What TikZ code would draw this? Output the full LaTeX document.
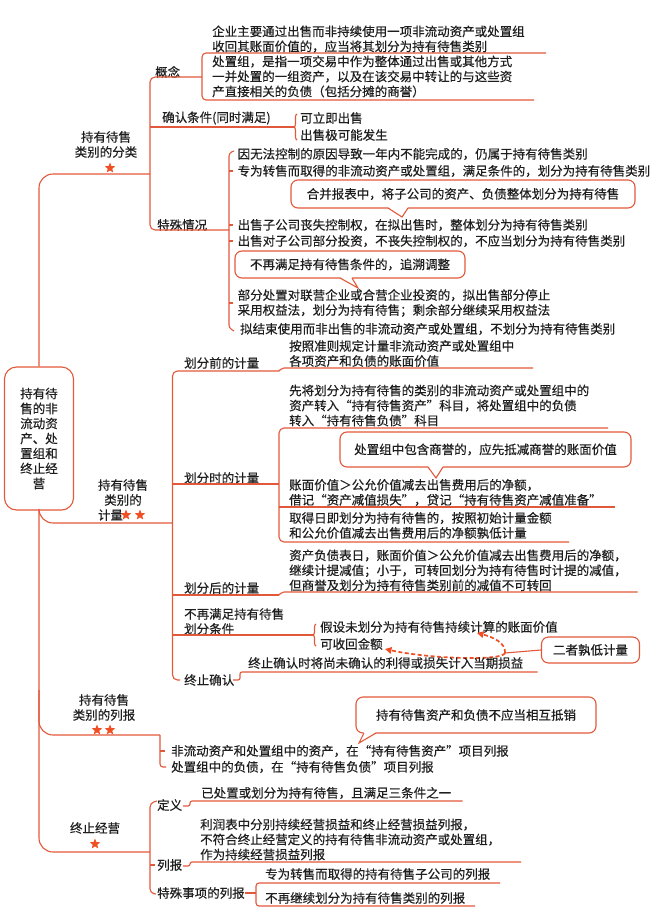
\documentclass[tikz,border=0pt]{standalone}
\usepackage{fontspec}
\setmainfont{Noto Sans CJK SC}[FakeBold=0.35]
\usetikzlibrary{shapes.geometric,arrows.meta,decorations.pathreplacing}
\definecolor{lc}{HTML}{E2583A}
\definecolor{sc}{HTML}{F04E23}
\definecolor{tc}{HTML}{1E1E1E}
\newcommand{\calltail}[5]{%
  \fill[white] (#1,#4-0.9) -- (#3,#5) -- (#2,#4-0.9) -- cycle;
  \draw[ln] (#1,#4) -- (#3,#5) -- (#2,#4);}
\begin{document}
\begin{tikzpicture}[x=1pt,y=-1pt,
  every node/.style={text=tc, font=\fontsize{12.5}{15}\selectfont, inner sep=0pt},
  txt/.style={anchor=west, align=left},
  lab/.style={align=center},
  ln/.style={draw=lc, line width=1.1pt},
  box/.style={draw=lc, line width=1.1pt, rounded corners=7pt, fill=white},
  starn/.style={star, star points=5, star point ratio=2.3, fill=sc, draw=none, minimum size=11pt, inner sep=0pt},
  dasharrow/.style={draw=sc, line width=1.7pt, dash pattern=on 4pt off 2.5pt, -{Triangle[length=6.5pt,width=6.5pt]}}
]
\fill[white] (0,0) rectangle (650,921);
\useasboundingbox (0,0) rectangle (650,921);

% ---------- root and trunk ----------
\node[box, minimum width=69pt, minimum height=143pt, align=center, rounded corners=12pt] (root) at (39,438.5)
  {持有待\\售的非\\流动资\\产、处\\置组和\\终止经\\营};
\coordinate (j1) at (150,174);
\coordinate (j2) at (172.5,523);
\coordinate (j3) at (160,735);
\coordinate (j4) at (150,852);
\coordinate (t3) at (39,690);
\draw[ln, rounded corners=14pt] (root.north) |- (j1);
\draw[ln, rounded corners=14pt] (root.south) |- (j2);
\draw[ln, rounded corners=14pt] (root.south) |- (j4);
\draw[ln, rounded corners=14pt] (t3) |- (j3);

% ---------- category labels ----------
\node[lab] (c1) at (106,144.5) {持有待售\\类别的分类};
\node[starn] (c1s) at (110,168) {};
\node[lab] (c2) at (123,500) {持有待售\\类别的\\计量\rule{25pt}{0pt}};
\node[starn] (c2s1) at (126,515) {};
\node[starn] (c2s2) at (140,515) {};
\node[lab] (c3) at (104,707.5) {持有待售\\类别的列报};
\node[starn] (c3s1) at (97,730) {};
\node[starn] (c3s2) at (110,730) {};
\node[lab] (c4) at (95,828) {终止经营};
\node[starn] (c4s) at (95,844) {};

% ---------- category 1 ----------
\node[txt] (gn) at (155,72) {概念};
\node[txt] (qr) at (162,118) {确认条件(同时满足)};
\node[txt] (ts) at (157,225) {特殊情况};
\coordinate (gnj) at (202,77);
\coordinate (tsj) at (229,230);
\draw[ln, rounded corners=5pt] (gnj) -| (150,150) |- (tsj);
\draw[ln] (150,127) -- (294,127);
\draw[ln, rounded corners=4pt] (546,53) -- (202,53) -- (202,100) -- (534,100);
\node[txt] (g1) at (212,39) {企业主要通过出售而非持续使用一项非流动资产或处置组\\收回其账面价值的，应当将其划分为持有待售类别};
\node[txt] (g2) at (212,76.5) {处置组，是指一项交易中作为整体通过出售或其他方式\\一并处置的一组资产，以及在该交易中转让的与这些资\\产直接相关的负债（包括分摊的商誉）};
\draw[ln, decorate, decoration={brace, amplitude=3pt}] (297,140) -- (297,114);
\node[txt] (q1) at (300,118) {可立即出售};
\node[txt] (q2) at (300,135) {出售极可能发生};

\draw[ln, rounded corners=3pt] (234,151) -- (229,153) -- (229,328) -- (234,331);
\foreach \yy in {171,225,241,303} {\draw[ln] (229,\yy) -- (233,\yy);}
\node[txt] (s1) at (237.5,154) {因无法控制的原因导致一年内不能完成的，仍属于持有待售类别};
\node[txt] (s2) at (237.5,171) {专为转售而取得的非流动资产或处置组，满足条件的，划分为持有待售类别};
\node[box, minimum width=344pt, minimum height=28pt] (k1) at (463,194) {合并报表中，将子公司的资产、负债整体划分为持有待售};
\calltail{388}{408}{402}{208}{217}
\node[txt] (s3) at (237.5,225) {出售子公司丧失控制权，在拟出售时，整体划分为持有待售类别};
\node[txt] (s4) at (237.5,241) {出售对子公司部分投资，不丧失控制权的，不应当划分为持有待售类别};
\node[box, minimum width=230pt, minimum height=27pt] (k2) at (350,264.5) {不再满足持有待售条件的，追溯调整};
\calltail{340}{352}{358}{278}{288}
\node[txt] (s5) at (237.5,303) {部分处置对联营企业或合营企业投资的，拟出售部分停止\\采用权益法，划分为持有待售；剩余部分继续采用权益法};
\node[txt] (s6) at (240,329) {拟结束使用而非出售的非流动资产或处置组，不划分为持有待售类别};

% ---------- category 2 ----------
\draw[ln, rounded corners=5pt] (279,371) -- (172.5,371) -- (172.5,680) -- (180,680);
\draw[ln, rounded corners=2pt] (279,371) -- (282,368) -- (533,368);
\node[txt] (m1) at (184,363) {划分前的计量};
\node[txt] (m1t) at (289,353.5) {按照准则规定计量非流动资产或处置组中\\各项资产和负债的账面价值};

\node[txt] (m2) at (184,478) {划分时的计量};
\draw[ln] (172.5,484) -- (279,484);
\draw[ln, rounded corners=5pt] (608,428) -- (279,428) -- (279,542) -- (569,542);
\draw[ln] (279,507) -- (615,507);
\node[txt] (m2a) at (289,405.5) {先将划分为持有待售的类别的非流动资产或处置组中的\\资产转入“持有待售资产”科目，将处置组中的负债\\转入“持有待售负债”科目};
\node[box, minimum width=291pt, minimum height=35pt] (k3) at (485.5,449.5) {处置组中包含商誉的，应先抵减商誉的账面价值};
\calltail{428}{443}{436}{467}{478}
\node[txt] (m2b) at (289,492.5) {账面价值＞公允价值减去出售费用后的净额，\\借记“资产减值损失”，贷记“持有待售资产减值准备”};
\node[txt] (m2c) at (289,525.5) {取得日即划分为持有待售的，按照初始计量金额\\和公允价值减去出售费用后的净额孰低计量};

\node[txt] (m3) at (184,588) {划分后的计量};
\draw[ln] (172.5,595) -- (279,595);
\draw[ln, rounded corners=2pt] (279,595) -- (282,592) -- (637.5,592);
\node[txt] (m3t) at (289,570.3) {资产负债表日，账面价值＞公允价值减去出售费用后的净额，\\继续计提减值；小于，可转回划分为持有待售时计提的减值，\\但商誉及划分为持有待售类别前的减值不可转回};

\node[txt] (m4) at (184,621.5) {不再满足持有待售\\划分条件};
\draw[ln] (172.5,635) -- (313,635);
\draw[ln, decorate, decoration={brace, amplitude=3pt}] (316,646) -- (316,624);
\node[txt] (m4a) at (320,627) {假设未划分为持有待售持续计算的账面价值};
\node[txt] (m4b) at (320,644) {可收回金额};
\node[box, minimum width=98pt, minimum height=26pt] (k4) at (590.5,650) {二者孰低计量};
\coordinate (jn) at (505,653);
\draw[ln] (k4.west) -- (jn);
\draw[dasharrow] (jn) .. controls (506,643) and (493,637) .. (477,633);
\draw[dasharrow] (jn) .. controls (503,661) and (430,659) .. (385,649);

\node[txt] (m5) at (184,680) {终止确认};
\node[txt] (m5t) at (248,663) {终止确认时将尚未确认的利得或损失计入当期损益};
\draw[ln, rounded corners=2pt] (233,680) -- (240,680) -- (240,672) -- (537.5,672);

% ---------- category 3 ----------
\draw[ln, rounded corners=3pt] (j3) -- (160,767) -- (166,767);
\draw[ln] (160,751) -- (165,751);
\node[txt] (r1) at (171,751) {非流动资产和处置组中的资产，在“持有待售资产”项目列报};
\node[txt] (r2) at (171,767) {处置组中的负债，在“持有待售负债”项目列报};
\node[box, minimum width=240pt, minimum height=36pt] (k5) at (476,715) {持有待售资产和负债不应当相互抵销};
\calltail{364}{376}{359}{733}{743}

% ---------- category 4 ----------
\draw[ln, rounded corners=4pt] (157,801) -- (150,803) -- (150,893) -- (156,894);
\draw[ln] (150,865) -- (155,865);
\node[txt] (d1) at (157,805) {定义};
\node[txt] (d2) at (157,865) {列报};
\node[txt] (d3) at (157,893) {特殊事项的列报};
\draw[ln, rounded corners=2pt] (183,806) -- (190,806) -- (190,801) -- (462.5,801);
\node[txt] (d1t) at (201,793) {已处置或划分为持有待售，且满足三条件之一};
\draw[ln, rounded corners=2pt] (183,866) -- (190,866) -- (190,862) -- (521,862);
\node[txt] (d2t) at (200,839.5) {利润表中分别持续经营损益和终止经营损益列报，\\不符合终止经营定义的持有待售非流动资产或处置组，\\作为持续经营损益列报};
\draw[ln] (245,893) -- (256,893);
\draw[ln, rounded corners=3pt] (500,883) -- (256,883) -- (256,906) -- (475,906);
\node[txt] (d3a) at (265,874) {专为转售而取得的持有待售子公司的列报};
\node[txt] (d3b) at (265,898) {不再继续划分为持有待售类别的列报};
\end{tikzpicture}
\end{document}
